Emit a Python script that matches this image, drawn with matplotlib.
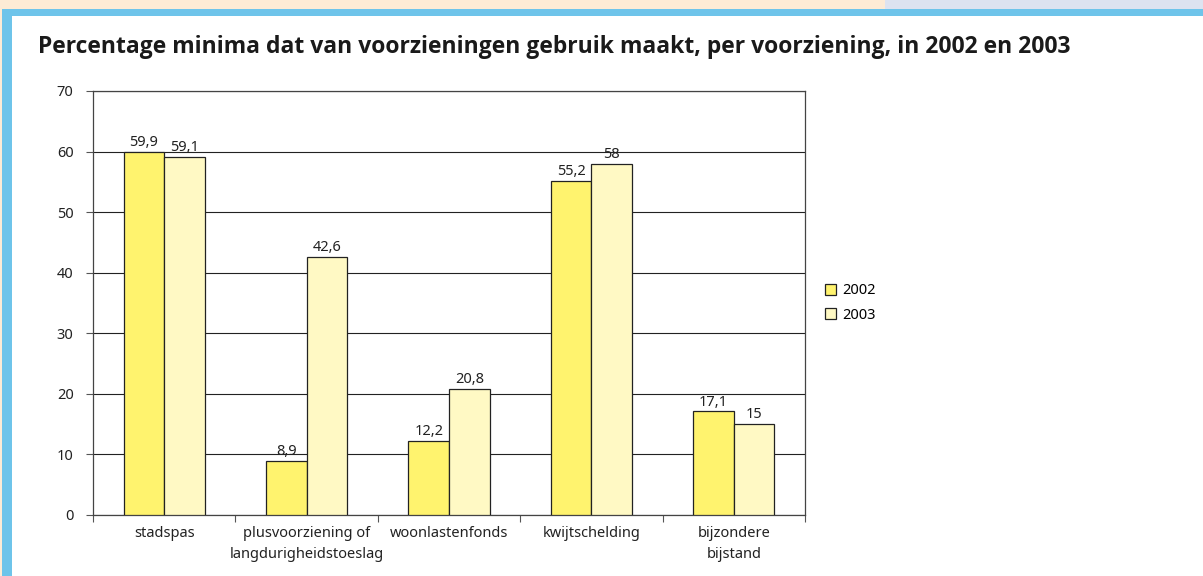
import matplotlib.pyplot as plt
import matplotlib.patches as mpatches
import numpy as np

plt.rcParams['font.family'] = ['Noto Sans', 'DejaVu Sans']

categories = ['stadspas', 'plusvoorziening of\nlangdurigheidstoeslag', 'woonlastenfonds',
              'kwijtschelding', 'bijzondere\nbijstand']
vals_2002 = [59.9, 8.9, 12.2, 55.2, 17.1]
vals_2003 = [59.1, 42.6, 20.8, 58, 15]
labels_2002 = ['59,9', '8,9', '12,2', '55,2', '17,1']
labels_2003 = ['59,1', '42,6', '20,8', '58', '15']
years = ['2002', '2003']
colors = ['#FFF36E', '#FFF9C4']

fig = plt.figure(figsize=(12.03, 5.76), dpi=100)

# page decoration: top band and blue frame
def band(x0, y0, w, h, c):
    fig.patches.append(mpatches.Rectangle((x0/1203, 1 - (y0 + h)/576), w/1203, h/576,
                                          transform=fig.transFigure, facecolor=c, edgecolor='none'))

band(0, 0, 885, 9, '#FDEBD5')
band(885, 0, 318, 9, '#DDE3F0')
band(0, 0, 2, 576, '#FDEBD5')
band(2, 9, 1201, 7, '#6EC4EA')
band(2, 9, 10, 567, '#6EC4EA')

fig.text(38/1203, 1 - 47/576, 'Percentage minima dat van voorzieningen gebruik maakt, per voorziening, in 2002 en 2003',
         fontsize=16.5, fontweight='bold', family=['Open Sans', 'DejaVu Sans'],
         color='#1a1a1a', va='center', ha='left')

ax = fig.add_axes([93/1203, 1 - 515/576, 712/1203, 424/576])
x = np.arange(len(categories))
w = 0.285
b1 = ax.bar(x - w/2, vals_2002, w, color=colors[0], edgecolor='#222222', linewidth=0.9, label=years[0], zorder=3)
b2 = ax.bar(x + w/2, vals_2003, w, color=colors[1], edgecolor='#222222', linewidth=0.9, label=years[1], zorder=3)
for bars, labs in ((b1, labels_2002), (b2, labels_2003)):
    for r, lab in zip(bars, labs):
        ax.text(r.get_x() + r.get_width()/2, r.get_height() + 0.3, lab, ha='center', va='bottom',
                fontsize=10.5, color='#222222')

ax.set_xlim(-0.5, len(categories) - 0.5)
ax.set_ylim(0, 70)
ax.set_yticks(range(0, 71, 10))
ax.grid(axis='y', color='#222222', linewidth=0.8, zorder=0)
ax.set_xticks(x)
ax.set_xticklabels(categories, fontsize=10.5, color='#222222', linespacing=1.55)
ax.set_xticks(np.arange(-0.5, len(categories), 1), minor=True)
ax.tick_params(axis='x', which='major', length=0, pad=8)
ax.tick_params(axis='x', which='minor', length=5, width=0.8, color='#555555')
ax.tick_params(axis='y', length=5, width=0.8, color='#555555', labelsize=10.5, labelcolor='#222222', pad=9)
for s in ax.spines.values():
    s.set_color('#444444')
    s.set_linewidth(0.9)

ax.legend(loc='center left', bbox_to_anchor=(1.01, 0.50), frameon=False, fontsize=10.5,
          handlelength=0.75, handleheight=0.75, handletextpad=0.45, labelspacing=0.65)

fig.savefig('out.png', dpi=100)
